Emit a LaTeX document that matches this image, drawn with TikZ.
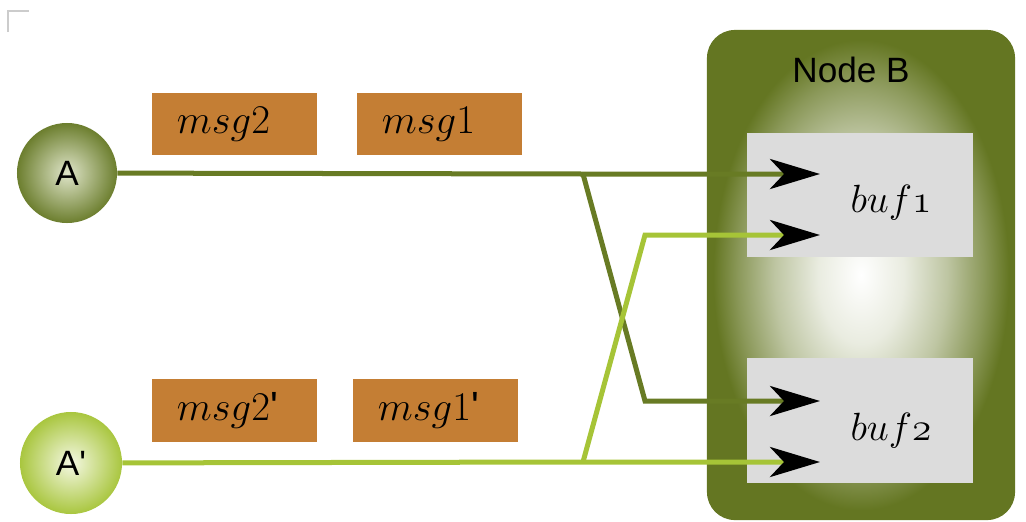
\documentclass[tikz,border=0pt]{standalone}
\usepackage{fix-cm}
\usepackage{fontspec}
\setsansfont{Liberation Sans}
\usetikzlibrary{arrows.meta}

\definecolor{nodebgreen}{HTML}{647622}
\definecolor{darkline}{HTML}{687B24}
\definecolor{lightline}{HTML}{A6C437}
\definecolor{aouter}{HTML}{6C7E2E}
\definecolor{ainner}{HTML}{DFE5C9}
\definecolor{apouter}{HTML}{A9C63F}
\definecolor{apinner}{HTML}{F4F8E2}
\definecolor{msgfill}{HTML}{C47E34}
\definecolor{buffill}{HTML}{DCDCDC}

\pgfdeclareradialshading{nodebglow}{\pgfpoint{0bp}{0bp}}{color(0bp)=(white); color(7bp)=(nodebgreen!14!white); color(14bp)=(nodebgreen!42!white); color(20bp)=(nodebgreen!75!white); color(24bp)=(nodebgreen); color(50bp)=(nodebgreen)}

\begin{document}
\begin{tikzpicture}[x=0.025cm, y=-0.025cm,
  msgbox/.style={rectangle, fill=msgfill, minimum width=4.125cm, minimum height=1.55cm, text width=2.875cm, inner xsep=0.625cm, align=left, font=\fontsize{29}{34}\selectfont},
  bufbox/.style={rectangle, fill=buffill, minimum width=5.65cm, minimum height=3.1cm},
  buftext/.style={font=\fontsize{28}{33}\selectfont},
  sender/.style={circle, minimum size=2.5cm, inner sep=0pt, shading=radial, font=\sffamily\fontsize{25}{30}\selectfont},
  msgline/.style={line width=0.125cm, -{Stealth[length=1.25cm, width=0.75cm, inset=0.35cm, black]}}]
  \useasboundingbox (0,0) rectangle (1026,521);
  % Crop mark
  \draw[gray!40, line width=0.04cm] (8,32) -- (8,11) -- (29,11);
  % Nodes
  \node (nodeb) [rectangle, rounded corners=0.7cm, shading=nodebglow, minimum width=7.7cm, minimum height=12.25cm] at (861,275) {};
  \node (nodeblabel) [font=\sffamily\fontsize{25}{30}\selectfont] at (851,70) {Node B};
  \node (buf1) [bufbox] at (860,195) {};
  \node (buf2) [bufbox] at (860,420.5) {};
  \node (buf1text) [buftext] at (891,203) {$buf\mathnormal{1}$};
  \node (buf2text) [buftext] at (891,431) {$buf\mathnormal{2}$};
  \node (msg2) [msgbox] at (234.5,124) {$msg2$};
  \node (msg1) [msgbox] at (439.5,124) {$msg1$};
  \node (msg2p) [msgbox] at (234.5,410.5) {$msg2$\textsf{\textquotesingle}};
  \node (msg1p) [msgbox] at (435.5,410.5) {$msg1$\textsf{\textquotesingle}};
  \node (a) [sender, inner color=ainner, outer color=aouter] at (67,173) {A};
  \node (ap) [sender, inner color=apinner, outer color=apouter, minimum size=2.55cm] at (71,463) {A\textquotesingle};
  % Coordinates
  \coordinate (splita) at (583,174);
  \coordinate (benda) at (645,401);
  \coordinate (tipa1) at (820,174);
  \coordinate (tipa2) at (820,401);
  \coordinate (splitap) at (583,462);
  \coordinate (bendap) at (645,235);
  \coordinate (tipap1) at (820,235);
  \coordinate (tipap2) at (820,462);
  % Arrow
  \draw[msgline, darkline] (a) -- (splita) -- (tipa1);
  \draw[msgline, darkline] (splita) -- (benda) -- (tipa2);
  \draw[msgline, lightline] (ap) -- (splitap) -- (tipap2);
  \draw[msgline, lightline] (splitap) -- (bendap) -- (tipap1);
\end{tikzpicture}
\end{document}
